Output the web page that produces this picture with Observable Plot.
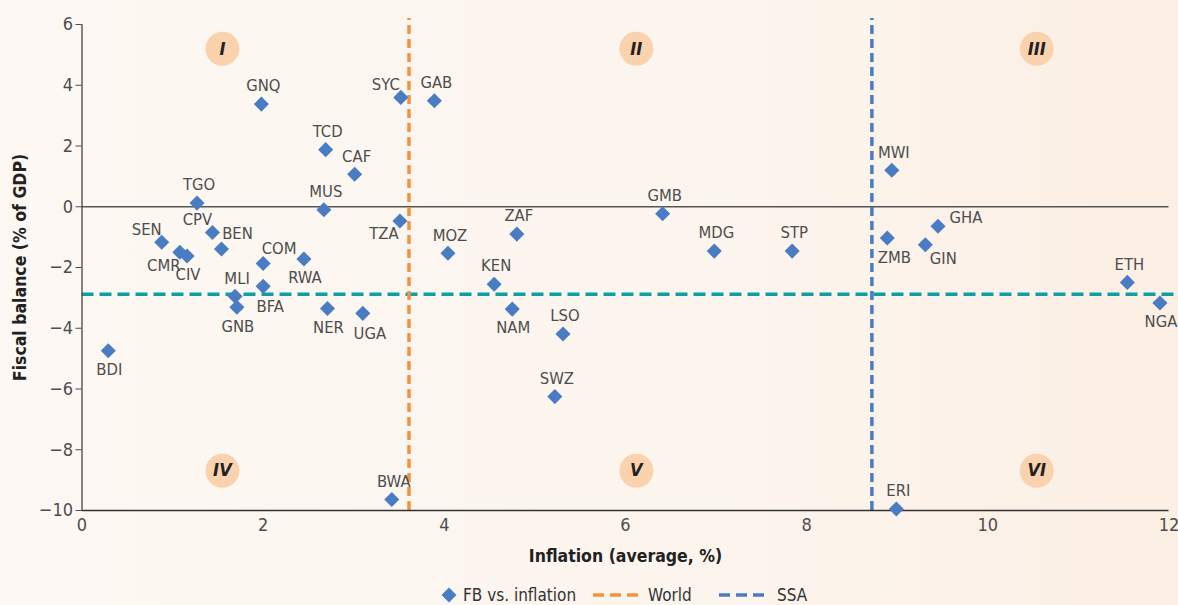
<!DOCTYPE html>
<html>
<head>
<meta charset="utf-8">
<script src="https://cdn.jsdelivr.net/npm/d3@7"></script>
<script src="https://cdn.jsdelivr.net/npm/@observablehq/plot@0.6"></script>
<style>
  html, body { margin: 0; padding: 0; }
  body {
    width: 1178px; height: 605px; overflow: hidden;
    background: linear-gradient(90deg, #fdf8f3 0%, #fcf5ee 60%, #fcefe4 100%);
    font-family: "Liberation Sans Narrow", "DejaVu Sans Condensed", "Roboto", sans-serif;
  }
  #chart { position: relative; width: 1178px; height: 575px; }
  g[aria-label="x-axis label"] text, g[aria-label="y-axis label"] text {
    font-weight: bold; fill: #222; font-size: 17.5px;
  }
  #legend { position: relative; width: 1178px; height: 30px; color: #333; font-size: 17px; }
  #legend .item { position: absolute; top: 10px; display: flex; align-items: center; }
  #legend svg { display: block; }
</style>
</head>
<body>
<div id="chart"></div>
<div id="legend"></div>
<script>
// ---- data ----
const codes = ["GNQ","SYC","TCD","CAF","TGO","MUS","TZA","SEN","CMR","CIV","CPV","BEN","COM","RWA","BFA","MLI","GNB","NER","UGA","BDI","BWA","GAB","MOZ","ZAF","KEN","NAM","LSO","SWZ","GMB","MDG","STP","MWI","ZMB","GIN","GHA","ETH","NGA","ERI"];
const inflation = [1.98,3.52,2.69,3.01,1.27,2.67,3.51,0.88,1.08,1.16,1.44,1.54,2.00,2.45,2.00,1.69,1.71,2.71,3.10,0.29,3.42,3.89,4.04,4.80,4.55,4.75,5.31,5.22,6.41,6.98,7.84,8.94,8.89,9.31,9.45,11.54,11.90,8.99];
const fiscalBalance = [3.38,3.60,1.88,1.07,0.12,-0.10,-0.47,-1.17,-1.50,-1.62,-0.85,-1.39,-1.87,-1.72,-2.62,-2.95,-3.31,-3.35,-3.51,-4.74,-9.64,3.49,-1.53,-0.90,-2.55,-3.37,-4.19,-6.25,-0.23,-1.46,-1.46,1.20,-1.03,-1.25,-0.64,-2.49,-3.17,-9.95];
// label placement relative to the marker
const labelPlacement = ["N","NW","N","N","N","N","SW","NW","SW","S","NW","NE","NE","S","SE","N","S","S","SE","S","N","N","N","N","N","S","N","N","N","N","N","N","SE","ESE","E","N","S","N"];

const worldInflation = 3.61;
const ssaInflation = 8.72;
const fiscalReference = -2.88;

const quadrantLabels = ["I","II","III","IV","V","VI"];
const quadrantX = [1.55, 6.12, 10.54, 1.55, 6.12, 10.54];
const quadrantY = [5.2, 5.2, 5.2, -8.69, -8.69, -8.69];

const xTicks = [0,2,4,6,8,10,12];
const yTicks = [-10,-8,-6,-4,-2,0,2,4,6];

// ---- build ----
const points = codes.map((c, i) => ({code: c, x: inflation[i], y: fiscalBalance[i], pos: labelPlacement[i]}));
const quadrants = quadrantLabels.map((q, i) => ({q, x: quadrantX[i], y: quadrantY[i]}));

const offsets = {
  N: [2, -18], S: [1, 19], NW: [-15, -13], SW: [-16, 13],
  NE: [16, -15], SE: [7, 20], ESE: [18, 14], E: [28, -8]
};
const labelMarks = Object.entries(offsets).map(([k, [dx, dy]]) =>
  Plot.text(points.filter(d => d.pos === k), {
    x: "x", y: "y", text: "code", dx, dy, fill: "#4d4d4d", fontSize: 16.5
  })
);

const blue = "#4a7cc3";
const orange = "#f7923a";
const teal = "#0aa0a6";

const chart = Plot.plot({
  width: 1178,
  height: 575,
  marginTop: 24,
  marginBottom: 65,
  marginLeft: 81.5,
  marginRight: 9.5,
  x: {domain: [0, 12]},
  y: {domain: [-10, 6]},
  style: {background: "transparent", fontFamily: "'Liberation Sans Narrow', 'DejaVu Sans Condensed', Roboto, sans-serif", fontSize: "18px", color: "#4d4d4d", overflow: "visible"},
  marks: [
    Plot.axisX({ticks: xTicks, tickSize: 0, tickPadding: 8, label: "Inflation (average, %)", labelAnchor: "center", labelArrow: "none", labelOffset: 51}),
    Plot.axisY({ticks: yTicks, tickSize: 6, tickPadding: 3, tickFormat: d => d < 0 ? "\u2212" + Math.abs(d) : String(d), label: "Fiscal balance (% of GDP)", labelAnchor: "center", labelArrow: "none", labelOffset: 68}),
    Plot.dot(quadrants, {x: "x", y: "y", r: 17, fill: "#fad2ae"}),
    Plot.text(quadrants, {x: "x", y: "y", text: "q", fontWeight: "bold", fontStyle: "italic", fontSize: 18, fill: "#222"}),
    Plot.ruleY([0], {x1: 0, x2: 12, stroke: "#555", strokeWidth: 1.3}),
    Plot.ruleY([fiscalReference], {x1: 0, x2: 12.08, stroke: teal, strokeWidth: 3.5, strokeDasharray: "12,6"}),
    Plot.ruleX([worldInflation], {y1: -10, y2: 6.2, stroke: orange, strokeWidth: 3.5, strokeDasharray: "9,5"}),
    Plot.ruleX([ssaInflation], {y1: -10, y2: 6.2, stroke: blue, strokeWidth: 3.5, strokeDasharray: "9,5"}),
    Plot.ruleX([0], {y1: -10, y2: 6, stroke: "#444", strokeWidth: 1.3}),
    Plot.ruleY([-10], {x1: 0, x2: 12, stroke: "#333", strokeWidth: 1.3}),
    Plot.dot(points, {x: "x", y: "y", symbol: "diamond2", r: 6.8, fill: blue, stroke: "none"}),
    ...labelMarks
  ]
});
document.getElementById("chart").appendChild(chart);

// ---- legend ----
const legend = document.getElementById("legend");
const legendItems = [
  {left: 440, swatch: `<svg width="18" height="18"><path d="M9 1.5 L16.5 9 L9 16.5 L1.5 9 Z" fill="${blue}"/></svg>`, label: "FB vs. inflation", gap: 5},
  {left: 590, swatch: `<svg width="48" height="10"><line x1="0" y1="5" x2="48" y2="5" stroke="${orange}" stroke-width="3.5" stroke-dasharray="11,6" stroke-dashoffset="-3"/></svg>`, label: "World", gap: 10},
  {left: 719, swatch: `<svg width="50" height="10"><line x1="0" y1="5" x2="50" y2="5" stroke="${blue}" stroke-width="3.5" stroke-dasharray="11,6"/></svg>`, label: "SSA", gap: 8}
];
for (const it of legendItems) {
  const div = document.createElement("div");
  div.className = "item";
  div.style.left = it.left + "px";
  div.innerHTML = it.swatch + `<span style="margin-left:${it.gap}px">${it.label}</span>`;
  legend.appendChild(div);
}
</script>
</body>
</html>
